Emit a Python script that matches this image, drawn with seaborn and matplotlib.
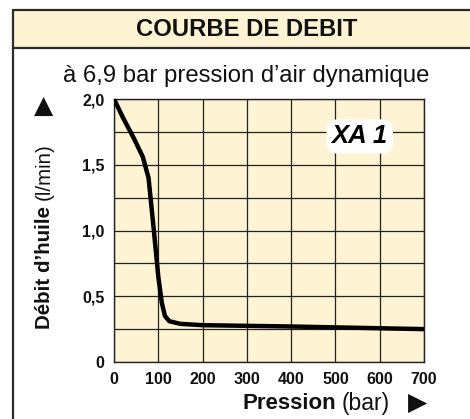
import matplotlib
matplotlib.use("Agg")
import matplotlib.pyplot as plt
from matplotlib.patches import Rectangle
import seaborn as sns
import pandas as pd

# Oil flow curve of the XA 1 pump at 6.9 bar dynamic air pressure
pression_bar = [0, 20, 45, 65, 78, 90, 100, 108, 115, 125, 150, 200, 400, 700]
debit_l_min = [2.0, 1.86, 1.70, 1.56, 1.40, 1.0, 0.65, 0.45, 0.35, 0.31, 0.29, 0.28, 0.27, 0.25]

x_ticks = [0, 100, 200, 300, 400, 500, 600, 700]
x_tick_labels = ["0", "100", "200", "300", "400", "500", "600", "700"]
y_ticks = [0, 0.25, 0.5, 0.75, 1.0, 1.25, 1.5, 1.75, 2.0]
y_tick_labels = ["0", "", "0,5", "", "1,0", "", "1,5", "", "2,0"]

title = "COURBE DE DEBIT"
subtitle = "à 6,9 bar pression d’air dynamique"
model = "XA 1"

sns.set_style("white")
plt.rcParams["font.family"] = ["Liberation Sans", "DejaVu Sans"]

W, H = 470, 419
fig = plt.figure(figsize=(W / 100, H / 100), dpi=100)
fig.patch.set_facecolor("white")

cream = "#fef3d3"
edge = "#2a2a2a"
ink = "#111111"


def fx(px):
    return px / W


def fy(py):
    return 1 - py / H


# Framed panel with a tinted header band
fig.patches.append(Rectangle((fx(13), fy(48)), fx(W - 13 + 5), fy(10) - fy(48),
                             transform=fig.transFigure, facecolor=cream,
                             edgecolor="none", zorder=0))
fig.add_artist(plt.Line2D([fx(13), fx(13)], [fy(10), fy(H + 5)], color=edge, lw=1.6,
                          transform=fig.transFigure))
fig.add_artist(plt.Line2D([fx(13), fx(W + 5)], [fy(10.5), fy(10.5)], color=edge, lw=1.6,
                          transform=fig.transFigure))
fig.add_artist(plt.Line2D([fx(13), fx(W + 5)], [fy(48), fy(48)], color=edge, lw=1.6,
                          transform=fig.transFigure))

fig.text(fx(246.5), fy(30), title, ha="center", va="center", fontsize=17.2,
         fontweight="bold", color=ink)
fig.text(fx(246), fy(76), subtitle, ha="center", va="center", fontsize=17.2,
         color=ink)

ax = fig.add_axes([fx(114), fy(362), fx(424) - fx(114), fy(99) - fy(362)])
ax.set_facecolor(cream)

df = pd.DataFrame({"pression": pression_bar, "debit": debit_l_min})
sns.lineplot(data=df, x="pression", y="debit", ax=ax, color="black", lw=3.2,
             solid_capstyle="round", solid_joinstyle="round", zorder=5)

ax.set_xlim(0, 700)
ax.set_ylim(0, 2.0)
ax.set_xticks(x_ticks)
ax.set_xticklabels(x_tick_labels)
ax.set_yticks(y_ticks)
ax.set_yticklabels(y_tick_labels)
ax.grid(True, color="#222222", lw=0.9)
ax.tick_params(length=0, pad=7)
for lab in ax.get_xticklabels() + ax.get_yticklabels():
    lab.set_fontfamily(["Liberation Sans Narrow", "DejaVu Sans Condensed", "Liberation Sans"])
    lab.set_fontweight("bold")
    lab.set_fontsize(11.5)
    lab.set_color(ink)
for s in ax.spines.values():
    s.set_color("#222222")
    s.set_linewidth(1.0)
ax.set_xlabel("")
ax.set_ylabel("")

# Model tag
ax.text(555, 1.715, model, ha="center", va="center", fontsize=18.5,
        fontweight="bold", fontstyle="italic", color="black", zorder=6,
        bbox=dict(boxstyle="round,pad=0.2,rounding_size=0.45",
                  facecolor="white", edgecolor="none"))

# Axis titles with direction arrows
fig.text(fx(243), fy(403), "Pression", ha="left", va="center", fontsize=16,
         fontweight="bold", color=ink)
fig.text(fx(342), fy(403), "(bar)", ha="left", va="center", fontsize=16.5,
         color=ink)
fig.text(fx(418), fy(403), "▶", ha="center", va="center", fontsize=18,
         color=ink, family=["DejaVu Sans"])

fig.text(fx(44), fy(329), "Débit d’huile", ha="center", va="bottom", rotation=90,
         fontsize=14.8, fontweight="bold", color=ink)
fig.text(fx(44), fy(200), "(l/min)", ha="center", va="bottom", rotation=90,
         fontsize=14.8, color=ink)
fig.text(fx(44), fy(106), "▲", ha="center", va="center", fontsize=18,
         color=ink, family=["DejaVu Sans"])

fig.savefig("out.png", dpi=100)
